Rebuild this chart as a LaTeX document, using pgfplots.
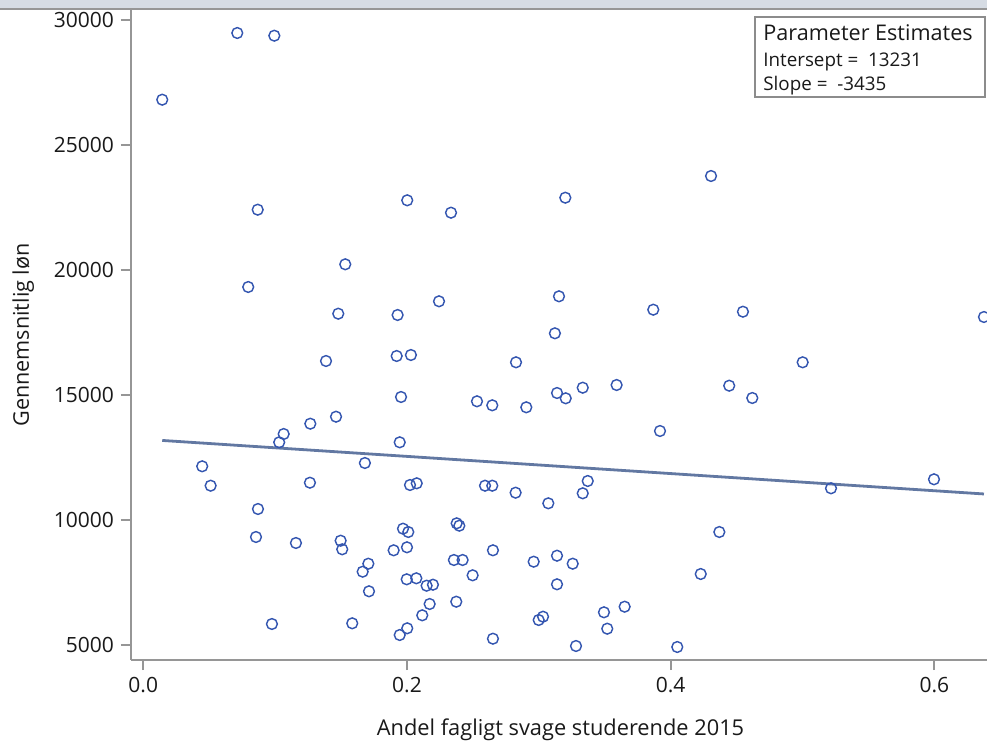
\documentclass[border=0pt]{standalone}
\usepackage{fontspec}
\setmainfont{Open Sans}
\usepackage{pgfplots}
\usepackage{pgfplotstable}
\pgfplotsset{compat=1.18}
\definecolor{mk}{RGB}{52,86,176}
\definecolor{fit}{RGB}{98,120,162}
\definecolor{axgray}{RGB}{150,150,150}
\definecolor{band}{RGB}{214,220,228}
\definecolor{txt}{RGB}{25,25,25}
\definecolor{legbox}{RGB}{140,140,140}

\pgfplotstableread{
x y
0.0144 26812
0.0713 29480
0.0994 29372
0.0868 22412
0.0796 19320
0.1532 20228
0.2002 22788
0.2334 22292
0.3201 22892
0.4306 23760
0.1479 18252
0.1929 18200
0.2243 18748
0.3153 18948
0.3868 18412
0.4548 18332
0.6376 18120
0.1386 16360
0.1922 16560
0.2030 16600
0.2827 16308
0.3122 17468
0.5001 16308
0.1955 14920
0.2531 14748
0.2647 14588
0.2905 14508
0.3138 15080
0.3204 14868
0.3333 15292
0.3590 15400
0.4444 15372
0.4619 14880
0.1462 14132
0.1267 13852
0.1065 13440
0.1031 13108
0.1945 13108
0.3919 13560
0.0447 12148
0.0511 11372
0.1681 12280
0.1264 11492
0.2023 11400
0.2074 11468
0.2592 11372
0.2647 11372
0.2824 11092
0.3072 10668
0.3333 11068
0.3371 11560
0.5997 11628
0.5216 11268
0.0870 10440
0.0855 9320
0.1158 9080
0.0976 5840
0.1497 9172
0.1509 8828
0.1707 8252
0.1664 7932
0.1712 7148
0.1585 5868
0.1970 9652
0.2010 9520
0.1899 8788
0.2000 8908
0.1998 7628
0.2071 7668
0.2149 7372
0.2197 7412
0.2172 6640
0.2116 6188
0.2002 5668
0.1945 5400
0.2377 9868
0.2397 9772
0.2356 8400
0.2422 8400
0.2498 7788
0.2374 6732
0.2652 8788
0.2652 5252
0.2961 8332
0.3138 8572
0.3257 8252
0.3138 7428
0.3032 6132
0.2999 6000
0.3494 6308
0.3651 6532
0.3519 5652
0.3282 4960
0.4369 9520
0.4228 7840
0.4050 4920
}\scatterdata

\begin{document}
\begin{tikzpicture}
\begin{axis}[
  scale only axis, width=428pt, height=325pt,
  xmin=-0.0093, xmax=0.6399, ymin=4400, ymax=30400,
  axis x line=bottom, axis y line=left,
  axis line style={-, draw=axgray, line width=1pt},
  tick align=outside, major tick length=5pt,
  tick style={draw=axgray, line width=1pt},
  xtick={0,0.2,0.4,0.6}, ytick={5000,10000,15000,20000,25000,30000},
  scaled ticks=false,
  x tick label style={/pgf/number format/fixed, /pgf/number format/fixed zerofill, /pgf/number format/precision=1},
  y tick label style={/pgf/number format/set thousands separator={}},
  /pgf/number format/assume math mode=true,
  tick label style={font=\fontsize{10.5}{12}\selectfont, text=txt},
]
\addplot[only marks, mark=o, mark size=2.7pt, mark options={draw=mk, line width=0.72pt}] table {\scatterdata};
\addplot[fit, line width=1.4pt, no marks] coordinates {(0.0144,13182) (0.6376,11041)};
\draw[draw=legbox, line width=0.7pt] (rel axis cs:0.729,0.9892) rectangle (rel axis cs:0.9977,0.8662);
\node[anchor=base west, inner sep=0, font=\fontsize{10.8}{12}\selectfont, text=txt] at (rel axis cs:0.7383,0.9528) {Parameter Estimates};
\node[anchor=base west, inner sep=0, font=\fontsize{9.4}{11}\selectfont, text=txt] at (rel axis cs:0.7383,0.9128) {Intersept =~ 13231};
\node[anchor=base west, inner sep=0, font=\fontsize{9.4}{11}\selectfont, text=txt] at (rel axis cs:0.7383,0.8769) {Slope =~ -3435};
\coordinate (ylab) at (rel axis cs:-0.1192,0.5);
\coordinate (xlab) at (rel axis cs:0.5018,-0.1155);
\coordinate (SW) at (rel axis cs:0,0);
\coordinate (NE) at (rel axis cs:1,1);
\end{axis}
\node[rotate=90, anchor=base, inner sep=0, font=\fontsize{10.8}{12}\selectfont, text=txt] at (ylab) {Gennemsnitlig løn};
\node[anchor=base, inner sep=0, font=\fontsize{10.9}{12}\selectfont, text=txt] at (xlab) {Andel fagligt svage studerende 2015};
\fill[band] ([xshift=-65.5pt,yshift=1pt]SW |- NE) rectangle ([yshift=5pt]NE);
\draw[axgray, line width=1pt] ([xshift=-65.5pt,yshift=0.5pt]SW |- NE) -- ([yshift=0.5pt]NE);
\pgfresetboundingbox
\path[use as bounding box] ([xshift=-65.5pt,yshift=-42.5pt]SW) rectangle ([yshift=5pt]NE);
\end{tikzpicture}
\end{document}
